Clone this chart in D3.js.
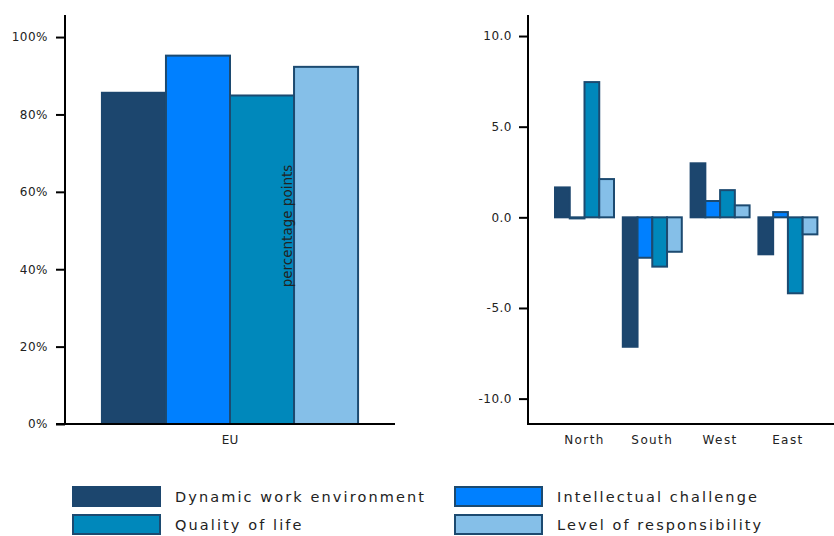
<!DOCTYPE html>
<html><head><meta charset="utf-8">
<script src="https://cdn.jsdelivr.net/npm/d3@7"></script>
<style>
body{margin:0;background:#fff;}
text{font-family:"DejaVu Sans",sans-serif;fill:#222;}
</style></head>
<body><svg id="c" width="834" height="536"></svg>
<script>
const seriesNames = ["Dynamic work environment","Intellectual challenge","Quality of life","Level of responsibility"];
const colors = ["#1c466e","#0080ff","#0088bb","#85bfe8"];
const euCategories = ["EU"];
const euValues = [0.856, 0.952, 0.849, 0.923];
const regions = ["North","South","West","East"];
const dynamicWork = [1.65, -7.14, 2.98, -2.04];
const intellectual = [-0.06, -2.23, 0.9, 0.29];
const qualityLife = [7.46, -2.72, 1.5, -4.19];
const responsibility = [2.11, -1.9, 0.66, -0.94];
const leftTicks = [0, 0.2, 0.4, 0.6, 0.8, 1.0];
const rightTicks = [-10, -5, 0, 5, 10];

const svg = d3.select("#c");
const stroke = "#1c4a70";

// Left chart
const yL = d3.scaleLinear().domain([0, 1.057]).range([424, 15]);
const xL = d3.scaleBand().domain(euCategories).range([65, 395]).padding(0.126);
const xLs = d3.scaleBand().domain(seriesNames).range([0, xL.bandwidth()]);
const gL = svg.append("g");
euCategories.forEach((c) => {
  seriesNames.forEach((s, i) => {
    gL.append("rect")
      .attr("x", xL(c) + xLs(s))
      .attr("y", yL(euValues[i]))
      .attr("width", xLs.bandwidth())
      .attr("height", yL(0) - yL(euValues[i]))
      .attr("fill", colors[i])
      .attr("stroke", i === 0 ? colors[0] : stroke)
      .attr("stroke-width", 2);
  });
});
const axL = gL.append("g").attr("transform", "translate(65,0)")
  .call(d3.axisLeft(yL).tickValues(leftTicks).tickFormat(d3.format(".0%")).tickSize(9).tickPadding(8));
axL.select(".domain").attr("d", "M0,15V424").attr("stroke", "#000").attr("stroke-width", 2);
axL.selectAll(".tick line").attr("stroke", "#000").attr("stroke-width", 2);
axL.selectAll(".tick text").style("font-size", "12px").style("letter-spacing", "0.5px").attr("fill", "#222");
gL.append("line").attr("x1", 56).attr("x2", 395).attr("y1", yL(0)).attr("y2", yL(0)).attr("stroke", "#000").attr("stroke-width", 2);
euCategories.forEach(c => {
  gL.append("text").attr("x", xL(c) + xL.bandwidth()/2).attr("y", 444)
    .attr("text-anchor", "middle").style("font-size", "12px").text(c);
});
gL.append("text").attr("transform", "translate(292,226) rotate(-90)")
  .attr("text-anchor", "middle").style("font-size", "13.5px").text("percentage points");

// Right chart
const yR = d3.scaleLinear().domain([-11.4, 11.16]).range([424, 15]);
const xR = d3.scaleBand().domain(regions).range([550.6, 821.8]).paddingInner(0.13).paddingOuter(0.065);
const xRs = d3.scaleBand().domain(seriesNames).range([0, xR.bandwidth()]);
const rightSeries = [dynamicWork, intellectual, qualityLife, responsibility];
const gR = svg.append("g");
regions.forEach((r, j) => {
  seriesNames.forEach((s, i) => {
    const v = rightSeries[i][j];
    gR.append("rect")
      .attr("x", xR(r) + xRs(s))
      .attr("y", yR(Math.max(0, v)))
      .attr("width", xRs.bandwidth())
      .attr("height", Math.abs(yR(v) - yR(0)))
      .attr("fill", colors[i])
      .attr("stroke", i === 0 ? colors[0] : stroke)
      .attr("stroke-width", 2);
  });
});
const fmtR = d => d3.format(".1f")(d).replace("\u2212", "-");
const axR = gR.append("g").attr("transform", "translate(528,0)")
  .call(d3.axisLeft(yR).tickValues(rightTicks).tickFormat(fmtR).tickSize(9).tickPadding(7));
axR.select(".domain").attr("d", "M0,15V424").attr("stroke", "#000").attr("stroke-width", 2);
axR.selectAll(".tick line").attr("stroke", "#000").attr("stroke-width", 2);
axR.selectAll(".tick text").style("font-size", "12px").style("letter-spacing", "0.5px").attr("fill", "#222");
gR.append("line").attr("x1", 527).attr("x2", 834).attr("y1", 424).attr("y2", 424).attr("stroke", "#000").attr("stroke-width", 2);
regions.forEach(r => {
  gR.append("text").attr("x", xR(r) + xR.bandwidth()/2).attr("y", 444)
    .attr("text-anchor", "middle").style("font-size", "12px").style("letter-spacing", "1.4px").text(r);
});

// Legend
const legX = [73, 455];
const legY = [487, 515];
seriesNames.forEach((s, i) => {
  const col = i % 2, row = Math.floor(i / 2);
  const g = svg.append("g").attr("transform", `translate(${legX[col]},${legY[row]})`);
  g.append("rect").attr("x", 0).attr("y", 0).attr("width", 87).attr("height", 19)
    .attr("fill", colors[i]).attr("stroke", i === 0 ? colors[0] : stroke).attr("stroke-width", 2);
  g.append("text").attr("x", 102).attr("y", 15).style("font-size", "14.5px").style("letter-spacing", "2.1px").text(s);
});
</script></body></html>
